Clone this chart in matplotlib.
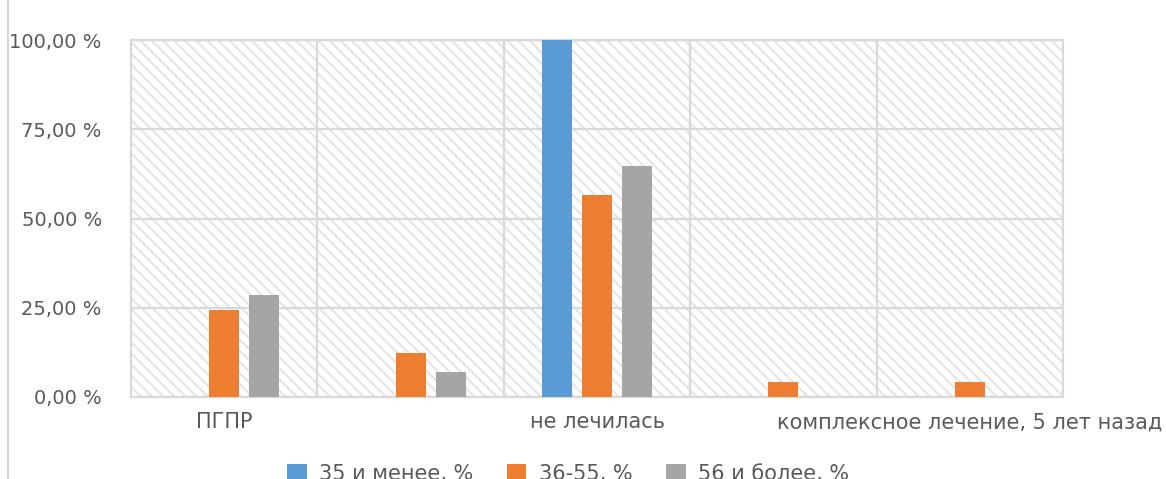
import matplotlib
matplotlib.use("Agg")
import matplotlib.pyplot as plt
import numpy as np
from matplotlib.patches import Rectangle
from matplotlib.lines import Line2D

categories = ["ПГПР", "", "не лечилась", "", "комплексное лечение, 5 лет назад"]
series_names = ["35 и менее, %", "36-55, %", "56 и более, %"]
s35 = [0.0, 0.0, 100.0, 0.0, 0.0]
s36_55 = [24.3, 12.3, 56.5, 4.2, 4.2]
s56 = [28.7, 7.0, 64.6, 0.0, 0.0]
yticks = [0, 25, 50, 75, 100]
colors = ["#5B9BD5", "#ED7D31", "#A5A5A5"]

plt.rcParams['font.family'] = ['DejaVu Sans']
plt.rcParams['hatch.linewidth'] = 1.6
txt = "#595959"
grid_c = "#D9D9D9"

fig = plt.figure(figsize=(11.66, 4.79), dpi=100)
W, H = 1166, 479
ax = fig.add_axes([131 / W, 1 - 397 / H, (1063 - 131) / W, (397 - 40) / H])

ax.set_xlim(-0.5, 4.5)
ax.set_ylim(0, 100)
ax.patch.set_facecolor("white")
bg = Rectangle((0, 0), 1, 1, transform=ax.transAxes, facecolor="white",
               edgecolor="#E6E6E6", hatch="\\" * 3, linewidth=0, zorder=0)
ax.add_patch(bg)

x = np.arange(len(categories))
bw = 0.16
step = 0.215
for i, (vals, c, nm) in enumerate(zip([s35, s36_55, s56], colors, series_names)):
    ax.bar(x + (i - 1) * step, vals, width=bw, color=c, label=nm, zorder=3)

for yv in yticks:
    ax.axhline(yv, color=grid_c, lw=1.6, zorder=1)
for xv in np.arange(0.5, 4.5, 1):
    ax.axvline(xv, color=grid_c, lw=1.6, zorder=1)
for sp in ax.spines.values():
    sp.set_color(grid_c)
    sp.set_linewidth(1.6)

ax.set_yticks(yticks)
ax.set_yticklabels([f"{v:.2f}".replace(".", ",") + " %" for v in yticks],
                   fontsize=14, color=txt)
ax.set_xticks(x)
ax.set_xticklabels(categories, fontsize=15, color=txt)
ax.tick_params(axis='both', length=0)
ax.tick_params(axis='y', pad=21)
ax.tick_params(axis='x', pad=11)

fig.add_artist(Line2D([8 / W, 8 / W], [0, 1], transform=fig.transFigure,
                      color=grid_c, lw=1.5))

leg = fig.legend(loc="center", bbox_to_anchor=(568 / W, 1 - 474 / H), ncol=3,
                 frameon=False, fontsize=15, handlelength=0.95, handleheight=0.95,
                 columnspacing=1.6, handletextpad=0.6)
for t in leg.get_texts():
    t.set_color(txt)

fig.savefig("out.png", dpi=100)
